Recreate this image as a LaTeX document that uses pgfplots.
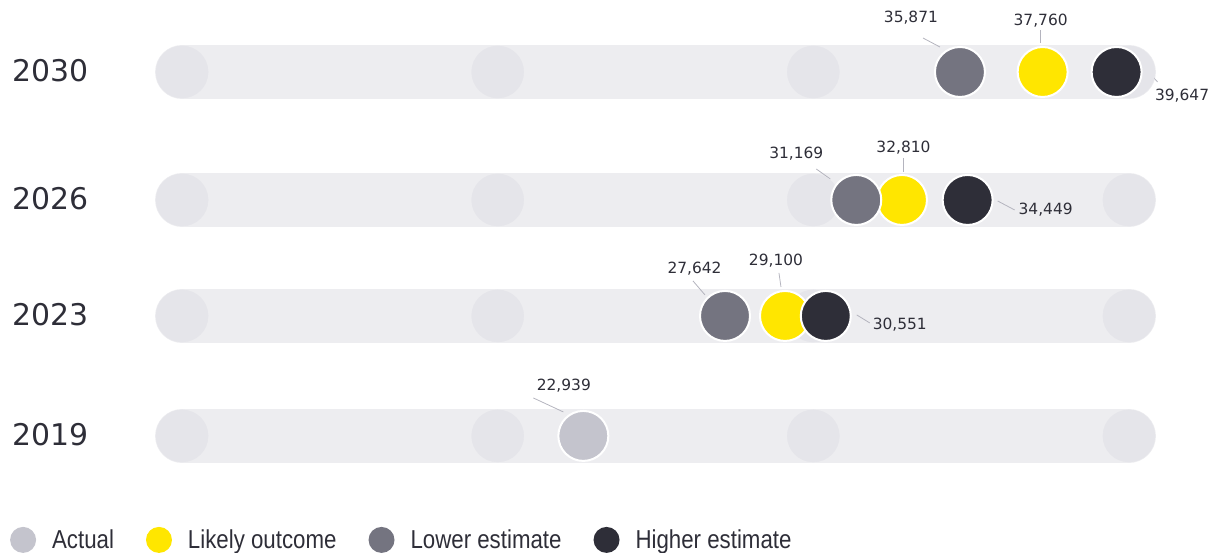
\documentclass[border=0pt]{standalone}
\usepackage{pgfplots}
\pgfplotsset{compat=1.18}
\usepackage{fontspec}
\setmainfont{DejaVu Sans}
\newfontfamily\legfont[FakeStretch=0.86]{Liberation Sans}
\usetikzlibrary{calc}

\definecolor{track}{HTML}{EDEDF0}
\definecolor{faint}{HTML}{E5E5EA}
\definecolor{actual}{HTML}{C4C4CD}
\definecolor{likely}{HTML}{FFE600}
\definecolor{lower}{HTML}{747480}
\definecolor{higher}{HTML}{2E2E38}
\definecolor{textc}{HTML}{2E2E38}
\definecolor{leader}{HTML}{B4B4BE}

% value label: {x}{y}{dx}{dy}{text}{x1}{y1}{x2}{y2}, offsets in bp from the dot
\newcommand{\lab}[9]{%
  \node[font=\fontsize{15.5}{16}\selectfont, text=textc, inner sep=0pt,
        xshift=#3bp, yshift=#4bp] at (axis cs:#1,#2) {#5};
  \draw[leader, line width=0.8bp]
    ($(axis cs:#1,#2)+(#6bp,#7bp)$) -- ($(axis cs:#1,#2)+(#8bp,#9bp)$);
}

\begin{document}
\begin{tikzpicture}
\begin{axis}[
  scale only axis,
  width=1219bp, height=553bp,
  xmin=4234, xmax=42851,
  ymin=0, ymax=553,
  clip=false,
  axis line style={draw=none},
  major tick length=0pt,
  xtick=\empty,
  ytick={117,237,353,481},
  yticklabels={2019,2023,2026,2030},
  yticklabel style={anchor=west, inner sep=0pt, xshift=12bp, yshift=1bp,
    font=\fontsize{30}{30}\selectfont, text=textc},
  legend columns=4,
  legend style={at={(0,0)}, anchor=south west, xshift=10bp, yshift=0bp,
    draw=none, fill=none, inner sep=0pt, outer sep=0pt,
    font=\legfont\fontsize{26}{26}\selectfont, text=textc,
    nodes={inner sep=0pt},
    /tikz/every odd column/.style={column sep=16bp},
    /tikz/every even column/.style={column sep=32bp}},
  legend image code/.code={\fill[#1, draw=none] (13bp,0bp) circle[radius=13bp];},
  dot/.style={only marks, mark=*, mark size=25bp,
    mark options={draw=white, line width=2bp, fill=#1}, color=#1},
]
% tracks, one per year
\addplot[forget plot, track, line width=54bp, line cap=round] coordinates {(10000,481) (40000,481)};
\addplot[forget plot, track, line width=54bp, line cap=round] coordinates {(10000,353) (40000,353)};
\addplot[forget plot, track, line width=54bp, line cap=round] coordinates {(10000,237) (40000,237)};
\addplot[forget plot, track, line width=54bp, line cap=round] coordinates {(10000,117) (40000,117)};
% faint scale dots at 10k, 20k, 30k, 40k
\addplot[forget plot, only marks, mark=*, mark size=26bp, faint] coordinates {
  (10000,481) (20000,481) (30000,481) (40000,481)
  (10000,353) (20000,353) (30000,353) (40000,353)
  (10000,237) (20000,237) (30000,237) (40000,237)
  (10000,117) (20000,117) (30000,117) (40000,117)};

% dots at their drawn positions
\addplot[dot=actual] coordinates {(22713,117)};
\addlegendentry{Actual}
\addplot[dot=likely] coordinates {(29102,237) (32809,353) (37266,481)};
\addlegendentry{Likely outcome}
\addplot[dot=lower] coordinates {(27202,237) (31361,353) (34646,481)};
\addlegendentry{Lower estimate}
\addplot[dot=higher] coordinates {(30395,237) (34890,353) (39610,481)};
\addlegendentry{Higher estimate}

% labels
\lab{34646}{481}{-49}{54}{35,871}{-37}{34}{-20}{25}
\lab{37266}{481}{-2}{51}{37,760}{-2}{42}{-2}{29}
\lab{39610}{481}{65.5}{-24}{39,647}{30}{2}{41}{-10}
\lab{31361}{353}{-60}{46}{31,169}{-40}{31}{-26}{21}
\lab{32809}{353}{1.5}{52.7}{32,810}{1}{42}{1}{28}
\lab{34890}{353}{78}{-10}{34,449}{30}{-1}{47}{-10}
\lab{27202}{237}{-30.5}{47}{27,642}{-32}{35}{-20}{21}
\lab{29102}{237}{-9}{55}{29,100}{-6}{43}{-4}{29}
\lab{30395}{237}{74}{-9}{30,551}{31}{1}{44}{-7}
\lab{22713}{117}{-19.5}{50}{22,939}{-50}{38}{-20}{24}
\end{axis}
\end{tikzpicture}
\end{document}
